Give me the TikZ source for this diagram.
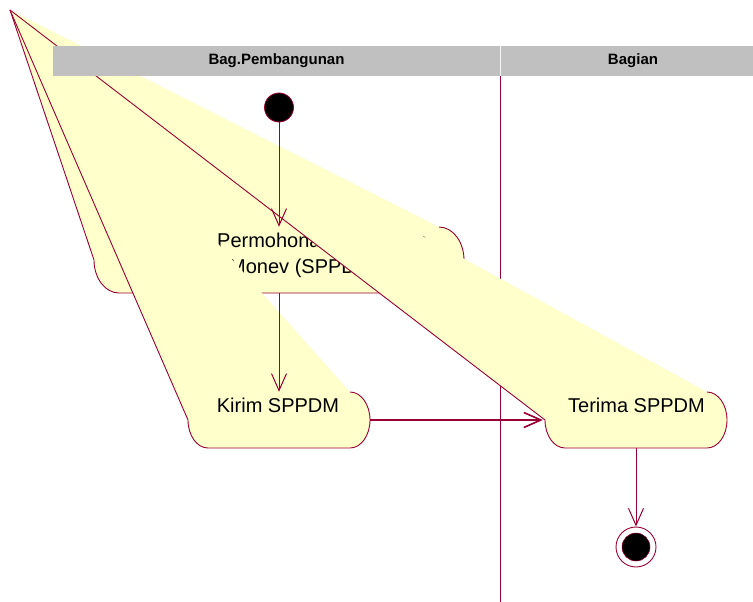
\documentclass[tikz,border=0pt]{standalone}
\usepackage{fontspec}
\setmainfont{Liberation Sans}
\usetikzlibrary{arrows.meta}
\definecolor{rose}{RGB}{153,0,51}
\definecolor{actfill}{RGB}{255,255,204}
\definecolor{barfill}{RGB}{192,192,192}
\begin{document}
\begin{tikzpicture}[x=1pt,y=-1pt,
  actline/.style={draw=rose,line width=0.9pt},
  box/.style={inner sep=0pt,draw=none},
  acttext/.style={font=\fontsize{20}{24}\selectfont,inner sep=0pt},
  headtext/.style={font=\fontsize{15}{17}\selectfont\bfseries,inner sep=0pt},
  arr/.style={draw=rose,line width=1pt,-{Straight Barb[length=17pt,width=15pt]}},
  lane/.style={draw=rose,line width=0.9pt}]
\useasboundingbox (0,0) rectangle (753,602);
\fill[white] (0,0) rectangle (753,602);

% swimlane divider
\coordinate (laneTop) at (500,76);
\coordinate (laneBot) at (500,602);
\draw[lane] (laneTop) -- (laneBot);

% invisible reference boxes of the activities
\node[box,minimum width=370pt,minimum height=66pt] (P) at (279,260) {};
\node[box,minimum width=182pt,minimum height=56pt] (K) at (279,420) {};
\node[box,minimum width=182pt,minimum height=56pt] (T) at (636,420) {};
\coordinate (apex) at (10,10);

% activity 1: Permohonan
\fill[actfill] (apex) -- (439,227) .. controls (452.8,227) and (464,241.8) .. (464,260)
  .. controls (464,278.2) and (452.8,293) .. (439,293)
  -- (119,293) .. controls (105.2,293) and (94,278.2) .. (94,260) -- cycle;
\draw[actline] (439,227) .. controls (452.8,227) and (464,241.8) .. (464,260)
  .. controls (464,278.2) and (452.8,293) .. (439,293)
  -- (119,293) .. controls (105.2,293) and (94,278.2) .. (94,260) -- (apex);
\node[acttext,anchor=base west] (P1) at (217,247) {Permohonan Pencairan};
\node[acttext,anchor=base west] (P2) at (229,273) {Monev (SPPDM)};

% activity 2: Kirim
\fill[actfill] (apex) -- (350,392) .. controls (361.05,392) and (370,404.54) .. (370,420)
  .. controls (370,435.46) and (361.05,448) .. (350,448)
  -- (208,448) .. controls (196.95,448) and (188,435.46) .. (188,420) -- cycle;
\draw[actline] (350,392) .. controls (361.05,392) and (370,404.54) .. (370,420)
  .. controls (370,435.46) and (361.05,448) .. (350,448)
  -- (208,448) .. controls (196.95,448) and (188,435.46) .. (188,420) -- (apex);
\node[acttext,anchor=base] (Kt) at (278,412) {Kirim SPPDM};

% activity 3: Terima
\fill[actfill] (apex) -- (707,392) .. controls (718.05,392) and (727,404.54) .. (727,420)
  .. controls (727,435.46) and (718.05,448) .. (707,448)
  -- (565,448) .. controls (553.95,448) and (545,435.46) .. (545,420) -- cycle;
\draw[actline] (707,392) .. controls (718.05,392) and (727,404.54) .. (727,420)
  .. controls (727,435.46) and (718.05,448) .. (707,448)
  -- (565,448) .. controls (553.95,448) and (545,435.46) .. (545,420) -- (apex);
\node[acttext,anchor=base] (Tt) at (636.5,412) {Terima SPPDM};

% header bar
\fill[barfill] (53,46) rectangle (753,76);
\draw[white!85!barfill,line width=0.8pt] (500,46) -- (500,76);
\node[headtext,anchor=base] (H1) at (276.5,65) {Bag.Pembangunan};
\node[headtext,anchor=base] (H2) at (633,65) {Bagian};

% start and end
\node[circle,fill=black,draw=rose,line width=0.8pt,minimum size=29pt,inner sep=0pt] (start) at (279,107.5) {};
\node[circle,fill=white,draw=rose,line width=0.9pt,minimum size=40pt,inner sep=0pt] (final) at (636,547) {};
\node[circle,fill=black,draw=rose,line width=0.5pt,minimum size=28pt,inner sep=0pt] (finalin) at (final) {};

% transitions
\draw[arr] (start.south) -- (P.north);
\draw[arr] (P.south) -- (K.north);
\draw[arr,line width=1.6pt] (K.east) -- ([xshift=-2pt]T.west);
\draw[arr] (T.south) -- (final.north);
\end{tikzpicture}
\end{document}
